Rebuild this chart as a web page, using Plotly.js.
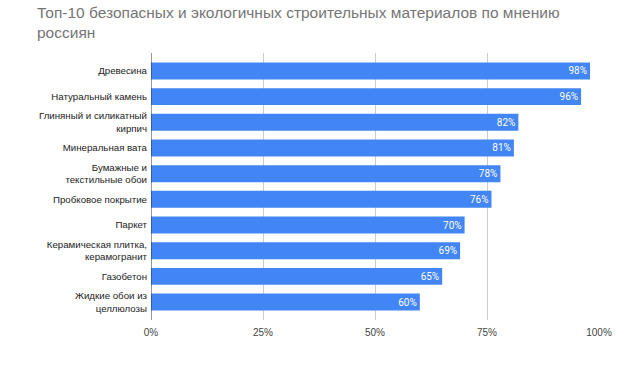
<!DOCTYPE html>
<html><head><meta charset="utf-8">
<script src="https://cdn.plot.ly/plotly-3.0.1.min.js"></script>
<style>html,body{margin:0;padding:0;background:#fff}</style>
</head><body><div id="chart" style="width:636px;height:379px"></div>
<script>
const categories = ["Древесина","Натуральный камень","Глиняный и силикатный<br>кирпич","Минеральная вата","Бумажные и<br>текстильные обои","Пробковое покрытие","Паркет","Керамическая плитка,<br>керамогранит","Газобетон","Жидкие обои из<br>целлюлозы"];
const values = [0.98,0.96,0.82,0.81,0.78,0.76,0.70,0.69,0.65,0.60];
const labels = ["98%","96%","82%","81%","78%","76%","70%","69%","65%","60%"];
const tickVals = [0,0.25,0.5,0.75,1];
const tickText = ["0%","25%","50%","75%","100%"];
const titleText = 'Топ-10 безопасных и экологичных строительных материалов по мнению<br>россиян';

const AR = '"Liberation Sans", Arial, sans-serif';
const T = 53, B = 59;
Plotly.newPlot('chart',[{
  type:'bar', orientation:'h', x:values, y:categories,
  marker:{color:'#4285F4'},
  text:labels, textposition:'inside', insidetextanchor:'end', constraintext:'none',
  textfont:{color:'#ffffff',size:10,family:'Roboto, sans-serif'},
  cliponaxis:false, hoverinfo:'none'
}],{
  width:636,height:379,
  margin:{l:151,r:37,t:T,b:B},
  paper_bgcolor:'#fff',plot_bgcolor:'#fff',
  font:{family:AR,color:'#222',size:10},
  annotations:[{text:titleText,xref:'paper',yref:'paper',x:(35-151)/448,y:1+(T-2)/(379-T-B),
    xanchor:'left',yanchor:'top',align:'left',showarrow:false,
    font:{size:15.5,color:'#757575',family:AR}}],
  bargap:0.34,
  xaxis:{range:[0,1],tickvals:tickVals,ticktext:tickText,showgrid:true,gridcolor:'#cccccc',
    zeroline:false,showline:false,ticks:'',ticklabelstandoff:5,tickfont:{size:10,color:'#444',family:AR},fixedrange:true},
  yaxis:{range:[9.7,-0.7],showgrid:false,zeroline:false,showline:false,ticks:'',ticklabelstandoff:3,
    tickfont:{size:9.7,color:'#222',family:AR},fixedrange:true},
  shapes:[{type:'line',xref:'x',yref:'paper',x0:0,x1:0,y0:0,y1:1,line:{color:'#333',width:1}}],
  showlegend:false
},{displayModeBar:false,staticPlot:true});
</script></body></html>
